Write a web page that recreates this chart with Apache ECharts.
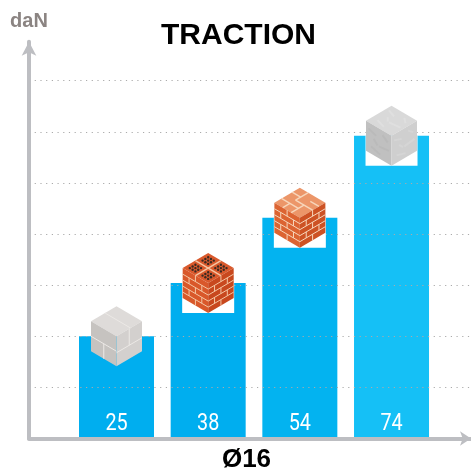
<!DOCTYPE html>
<html>
<head>
<meta charset="utf-8">
<style>
html,body{margin:0;padding:0;background:#fff;}
#myDiv{width:471px;height:469px;}
</style>
<script src="https://cdn.jsdelivr.net/npm/echarts@6/dist/echarts.min.js"></script>
</head>
<body>
<div id="myDiv"></div>
<script>
const titleText = 'TRACTION';
const yName = 'daN';
const xName = 'Ø16';
const materials = ['parpaing', 'brique creuse', 'brique pleine', 'beton'];
const positions = [1, 2, 3, 4];
const values = [25, 38, 54, 74];
const barColors = ['#00AEEF', '#00AEEF', '#03B3F0', '#15C0F6'];

// cube drawn on top of each bar, size in px
const W = 25.5, H = 30;
const looks = [
  { top: '#dedbd9', left: '#c6c3c0', right: '#d3d0ce', mortar: '#ece9e6', back: false },
  { top: '#d9592c', left: '#d9582a', right: '#c8481e', mortar: '#f4c6a4', back: true },
  { top: '#ec9669', left: '#dc6432', right: '#cd5224', mortar: '#f7d6bb', back: true },
  { top: '#d9d9d9', left: '#c0c0c0', right: '#cfcfcf', mortar: null, back: true }
];

function face(cx, cy, name) {
  const T = [cx, cy - H], R = [cx + W, cy - H / 2], L = [cx - W, cy - H / 2], C = [cx, cy];
  const B = [cx, cy + H], RB = [cx + W, cy + H / 2], LB = [cx - W, cy + H / 2];
  const c = name === 'top' ? [T, R, C, L] : name === 'left' ? [L, C, B, LB] : [C, R, RB, B];
  return {
    corners: c,
    at: function (u, v) {
      return [
        c[0][0] + u * (c[1][0] - c[0][0]) + v * (c[3][0] - c[0][0]),
        c[0][1] + u * (c[1][1] - c[0][1]) + v * (c[3][1] - c[0][1])
      ];
    }
  };
}

function seg(f, a, color, width) {
  const p = f.at(a[0], a[1]), q = f.at(a[2], a[3]);
  return { type: 'line', shape: { x1: p[0], y1: p[1], x2: q[0], y2: q[1] }, style: { stroke: color, lineWidth: width || 1 } };
}

// mortar joints in face coordinates: u0,v0,u1,v1
function wallJoints() {
  const out = [];
  const rows = 5;
  for (let r = 1; r < rows; r++) out.push([0, r / rows, 1, r / rows]);
  for (let r = 0; r < rows; r++) {
    const us = r % 2 ? [0.25, 0.75] : [0.5];
    us.forEach(function (u) { out.push([u, r / rows, u, (r + 1) / rows]); });
  }
  return out;
}
const blockLeft = [[0, 0.5, 1, 0.5], [0.5, 0.5, 0.5, 1]];
const blockRight = [[0, 0.55, 1, 0.55], [0.5, 0, 0.5, 0.55]];
const blockTop = [[0, 0.45, 1, 0.45]];
const hollowTop = [[0.5, 0, 0.5, 1], [0, 0.5, 1, 0.5]];
const plainTop = [[0.33, 0, 0.33, 0.5], [0.33, 0.5, 1, 0.5], [0, 0.3, 0.33, 0.3], [0.66, 0.5, 0.66, 1], [0, 0.72, 0.66, 0.72], [0.66, 0.25, 1, 0.25], [0.33, 0.72, 0.33, 1]];
const grain = [[0.1, 0.2, 0.4, 0.3], [0.5, 0.6, 0.9, 0.55], [0.2, 0.75, 0.55, 0.85], [0.65, 0.15, 0.85, 0.3], [0.3, 0.45, 0.45, 0.6]];

function renderCube(params, api) {
  const i = params.dataIndex;
  const v = api.value(1);
  const pt = api.coord([api.value(0), v]);
  const base = api.coord([api.value(0), 0]);
  const cx = pt[0], cy = pt[1];
  const look = looks[i];
  const kids = [];
  if (look.back) {
    kids.push({ type: 'rect', shape: { x: cx - W - 0.5, y: cy, width: 2 * W + 1, height: H }, style: { fill: '#fff' } });
  }
  const top = face(cx, cy, 'top'), left = face(cx, cy, 'left'), right = face(cx, cy, 'right');
  [[top, look.top], [left, look.left], [right, look.right]].forEach(function (f) {
    kids.push({ type: 'polygon', shape: { points: f[0].corners }, style: { fill: f[1] } });
  });
  if (i === 0) {
    blockTop.forEach(function (a) { kids.push(seg(top, a, look.mortar)); });
    blockLeft.forEach(function (a) { kids.push(seg(left, a, look.mortar)); });
    blockRight.forEach(function (a) { kids.push(seg(right, a, look.mortar)); });
  } else if (i === 1 || i === 2) {
    wallJoints().forEach(function (a) {
      kids.push(seg(left, a, look.mortar));
      kids.push(seg(right, a, look.mortar));
    });
    (i === 1 ? hollowTop : plainTop).forEach(function (a) { kids.push(seg(top, a, look.mortar, 1.4)); });
    if (i === 1) {
      // holes of the hollow brick, 3x3 in each of the four tiles
      [0, 0.5].forEach(function (u0) {
        [0, 0.5].forEach(function (v0) {
          [0.14, 0.25, 0.36].forEach(function (du) {
            [0.14, 0.25, 0.36].forEach(function (dv) {
              const p = top.at(u0 + du, v0 + dv);
              kids.push({ type: 'circle', shape: { cx: p[0], cy: p[1], r: 1.2 }, style: { fill: '#3a2a22' } });
            });
          });
        });
      });
    }
  } else {
    [top, left, right].forEach(function (f, k) {
      const tone = ['#dfdfdf', '#bababa', '#d5d5d5'][k];
      grain.forEach(function (a) { kids.push(seg(f, a, tone, 2)); });
    });
  }
  // the value sits at the foot of the bar, light and narrow
  kids.push({
    type: 'text',
    x: cx,
    y: base[1] - 14,
    scaleX: 0.86,
    style: {
      text: String(v),
      fill: '#fff',
      align: 'center',
      verticalAlign: 'middle',
      fontSize: 23,
      fontWeight: 400,
      fontFamily: 'Roboto, "Liberation Sans", sans-serif'
    }
  });
  return { type: 'group', children: kids };
}

const barData = values.map(function (v, i) {
  return { value: [positions[i], v], itemStyle: { color: barColors[i] } };
});
const cubeData = values.map(function (v, i) {
  return { name: materials[i], value: [positions[i], v] };
});

const myChart = echarts.init(document.getElementById('myDiv'), null, { renderer: 'canvas' });
const option = {
  animation: false,
  backgroundColor: '#fff',
  title: {
    text: titleText,
    left: 161,
    top: 21,
    padding: 0,
    textStyle: { color: '#000', fontSize: 30, fontWeight: 'bold', fontFamily: '"Liberation Sans", Arial, sans-serif' }
  },
  grid: { left: 29, right: 0, top: 41.8, bottom: 30.5, outerBoundsMode: 'none' },
  xAxis: {
    type: 'value',
    min: 0.0455,
    max: 4.867,
    z: 3,
    name: xName,
    nameLocation: 'middle',
    nameGap: 8,
    nameTextStyle: { color: '#000', fontSize: 26, fontWeight: 'bold', fontFamily: '"Liberation Sans", Arial, sans-serif', padding: [0, 7, 0, 0] },
    axisLine: {
      show: true,
      symbol: ['none', 'arrow'],
      symbolSize: [11, 11],
      lineStyle: { color: '#BDBEC2', width: 4 }
    },
    axisTick: { show: false },
    axisLabel: { show: false },
    splitLine: { show: false }
  },
  yAxis: {
    type: 'value',
    min: 0,
    max: 97,
    interval: 12.5,
    z: 3,
    name: yName,
    nameLocation: 'end',
    nameGap: 10,
    nameTextStyle: { color: '#8B8482', fontSize: 20, fontWeight: 'bold', fontFamily: '"Liberation Sans", Arial, sans-serif' },
    axisLine: {
      show: true,
      symbol: ['none', 'arrow'],
      symbolSize: [11, 14],
      lineStyle: { color: '#BDBEC2', width: 4 }
    },
    axisTick: { show: false },
    axisLabel: { show: false },
    splitLine: {
      show: true,
      showMinLine: false,
      showMaxLine: false,
      lineStyle: { color: '#ababab', width: 1, type: [1.2, 4.5] }
    }
  },
  series: [
    {
      type: 'bar',
      barWidth: 75,
      data: barData
    },
    {
      type: 'custom',
      z: 5,
      clip: false,
      renderItem: renderCube,
      encode: { x: 0, y: 1 },
      data: cubeData
    }
  ]
};
myChart.setOption(option);
</script>
</body>
</html>
